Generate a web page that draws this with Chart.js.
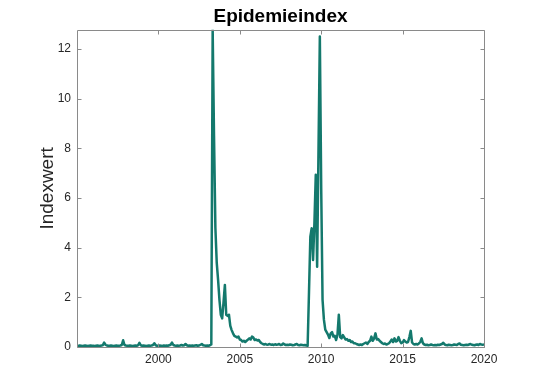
<!DOCTYPE html>
<html>
<head>
<meta charset="utf-8">
<script src="https://cdn.jsdelivr.net/npm/chart.js@4"></script>
<style>
  html, body { margin: 0; padding: 0; background: #fff; }
</style>
</head>
<body>
<canvas id="chart" width="548" height="378"></canvas>
<script>
// monthly index values, Jan 1995 .. Jan 2020
const startYear = 1995
const values = [
  0.05, 0.04, 0.06, 0.05, 0.04, 0.05, 0.06, 0.05, 0.04, 0.05, 0.06, 0.05, // 1995
  0.05, 0.04, 0.05, 0.06, 0.05, 0.04, 0.06, 0.07, 0.18, 0.09, 0.06, 0.05, // 1996
  0.05, 0.06, 0.05, 0.04, 0.05, 0.06, 0.05, 0.05, 0.06, 0.08, 0.27, 0.08, // 1997
  0.06, 0.05, 0.05, 0.06, 0.05, 0.04, 0.05, 0.06, 0.05, 0.07, 0.17, 0.07, // 1998
  0.05, 0.06, 0.05, 0.04, 0.05, 0.06, 0.05, 0.06, 0.08, 0.15, 0.07, 0.05, // 1999
  0.05, 0.06, 0.05, 0.04, 0.06, 0.05, 0.06, 0.05, 0.07, 0.09, 0.18, 0.08, // 2000
  0.06, 0.05, 0.06, 0.05, 0.06, 0.08, 0.06, 0.07, 0.12, 0.07, 0.05, 0.06, // 2001
  0.05, 0.06, 0.05, 0.06, 0.07, 0.05, 0.06, 0.09, 0.12, 0.07, 0.06, 0.05, // 2002
  0.06, 0.05, 0.07, 0.10, 12.77, 8.5, 4.8, 3.4, 2.7, 1.9, 1.3, 1.15,      // 2003
  1.8, 2.5, 1.3, 1.25, 1.3, 0.85, 0.68, 0.55, 0.45, 0.42, 0.38, 0.42,     // 2004
  0.3, 0.28, 0.22, 0.25, 0.2, 0.25, 0.3, 0.35, 0.3, 0.42, 0.38, 0.28,     // 2005
  0.3, 0.26, 0.28, 0.2, 0.15, 0.12, 0.1, 0.12, 0.09, 0.1, 0.12, 0.09,     // 2006
  0.1, 0.08, 0.11, 0.09, 0.1, 0.12, 0.08, 0.09, 0.14, 0.1, 0.08, 0.09,    // 2007
  0.08, 0.1, 0.09, 0.07, 0.08, 0.1, 0.12, 0.08, 0.07, 0.09, 0.08, 0.07,   // 2008
  0.08, 0.06, 0.05, 2.2, 4.44, 4.78, 3.5, 5.0, 6.93, 3.23, 7.9, 12.5,     // 2009
  6.4, 1.9, 1.1, 0.7, 0.6, 0.5, 0.36, 0.55, 0.6, 0.42, 0.45, 0.28,        // 2010
  0.5, 1.3, 0.4, 0.35, 0.48, 0.38, 0.3, 0.32, 0.25, 0.28, 0.2, 0.22,      // 2011
  0.15, 0.15, 0.12, 0.1, 0.08, 0.1, 0.08, 0.12, 0.15, 0.18, 0.12, 0.2,    // 2012
  0.25, 0.42, 0.25, 0.35, 0.55, 0.3, 0.32, 0.25, 0.2, 0.15, 0.12, 0.14,   // 2013
  0.1, 0.12, 0.15, 0.22, 0.3, 0.2, 0.35, 0.22, 0.25, 0.4, 0.25, 0.15,     // 2014
  0.18, 0.28, 0.22, 0.18, 0.2, 0.4, 0.65, 0.18, 0.12, 0.1, 0.12, 0.1,     // 2015
  0.14, 0.2, 0.35, 0.15, 0.1, 0.08, 0.09, 0.07, 0.08, 0.1, 0.08, 0.07,    // 2016
  0.08, 0.07, 0.09, 0.08, 0.1, 0.12, 0.17, 0.1, 0.08, 0.07, 0.09, 0.08,   // 2017
  0.07, 0.08, 0.1, 0.09, 0.08, 0.12, 0.14, 0.09, 0.08, 0.07, 0.08, 0.09,  // 2018
  0.08, 0.1, 0.12, 0.09, 0.08, 0.07, 0.09, 0.1, 0.08, 0.12, 0.1, 0.09,    // 2019
  0.1                                                                    // 2020
]
const xTicks = [2000, 2005, 2010, 2015, 2020]
const yTicks = [0, 2, 4, 6, 8, 10, 12]
const yMax = 12.77

const points = values.map((v, i) => ({ x: startYear + i / 12, y: v }))

const font = "'Liberation Sans', Arial, Helvetica, sans-serif"

// MATLAB style box with inward ticks
const boxTicks = {
    id: "boxTicks",
    afterDraw(chart) {
        const { ctx, chartArea: a, scales: { x, y } } = chart
        const l = Math.round(a.left) + 0.5
        const r = Math.round(a.right) + 0.5
        const t = Math.round(a.top) + 0.5
        const b = Math.round(a.bottom) + 0.5
        ctx.save()
        ctx.strokeStyle = "#8a8a8a"
        ctx.lineWidth = 1
        ctx.beginPath()
        ctx.rect(l, t, r - l, b - t)
        xTicks.forEach(v => {
            const px = Math.round(x.getPixelForValue(v)) + 0.5
            ctx.moveTo(px, b); ctx.lineTo(px, b - 4)
            ctx.moveTo(px, t); ctx.lineTo(px, t + 4)
        })
        yTicks.forEach(v => {
            const py = Math.round(y.getPixelForValue(v)) + 0.5
            ctx.moveTo(l, py); ctx.lineTo(l + 4, py)
            ctx.moveTo(r, py); ctx.lineTo(r - 4, py)
        })
        ctx.stroke()
        ctx.restore()
    }
}

new Chart(document.getElementById("chart").getContext("2d"), {
    type: "line",
    data: {
        datasets: [{
            data: points,
            borderColor: "#14796d",
            borderWidth: 2.5,
            pointRadius: 0,
            tension: 0,
            borderJoinStyle: "round"
        }]
    },
    options: {
        responsive: false,
        animation: false,
        parsing: false,
        layout: { padding: { left: 0, right: 64, top: 0, bottom: 0 } },
        plugins: {
            legend: { display: false },
            tooltip: { enabled: false },
            title: {
                display: true,
                text: "Epidemieindex",
                fullSize: false,
                color: "#000",
                font: { family: font, size: 19, weight: "bold" },
                padding: { top: 5, bottom: 2 }
            }
        },
        scales: {
            x: {
                type: "linear",
                min: startYear,
                max: 2020,
                grid: { display: false, drawTicks: false },
                border: { display: false },
                afterBuildTicks: s => { s.ticks = xTicks.map(v => ({ value: v })) },
                afterFit: s => { s.height = 31 },
                ticks: {
                    color: "#262626",
                    font: { family: font, size: 12 },
                    padding: 5,
                    maxRotation: 0,
                    callback: v => String(v)
                }
            },
            y: {
                min: 0,
                max: yMax,
                grid: { display: false, drawTicks: false },
                border: { display: false },
                afterBuildTicks: s => { s.ticks = yTicks.map(v => ({ value: v })) },
                afterFit: s => { s.width = 77 },
                ticks: {
                    color: "#262626",
                    font: { family: font, size: 12 },
                    padding: 6,
                    callback: v => String(v)
                },
                title: {
                    display: true,
                    text: "Indexwert",
                    color: "#262626",
                    font: { family: font, size: 19 },
                    padding: { top: 36, bottom: 0 }
                }
            }
        }
    },
    plugins: [boxTicks]
})
</script>
</body>
</html>
